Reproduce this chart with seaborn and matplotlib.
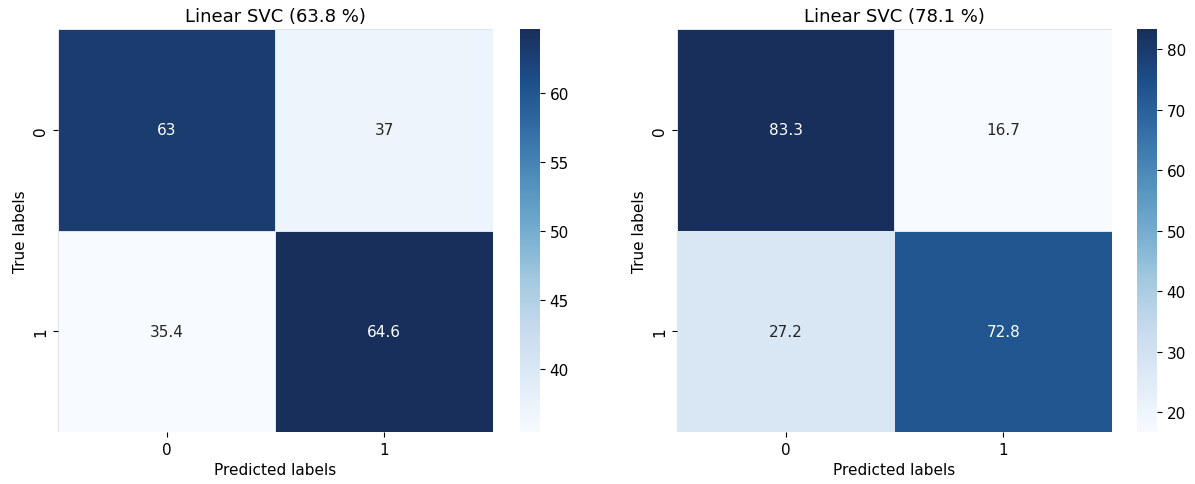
import numpy as np
import pandas as pd
import matplotlib
matplotlib.use("Agg")
import matplotlib.pyplot as plt
from matplotlib.colors import ListedColormap
import seaborn as sns

# confusion matrices (percent per true label)
labels = ["0", "1"]
cm_left = [[63, 37], [35.4, 64.6]]
cm_right = [[83.3, 16.7], [27.2, 72.8]]
titles = ["Linear SVC (63.8 %)", "Linear SVC (78.1 %)"]

# slightly muted version of "Blues" (mostly in the dark end) to match the reference tones
base = plt.get_cmap("Blues")(np.linspace(0, 1, 256))[:, :3]
lum = (base @ np.array([0.299, 0.587, 0.114]))[:, None]
dark = 1 - lum
muted = lum + (1 - 0.3 * dark) * (base - lum)
muted[:, 0:1] += 0.04 * dark
muted = np.clip(muted, 0, 1)
cmap = ListedColormap(muted)

fig = plt.figure(figsize=(11.95, 4.85), dpi=100)

# axes positions [left, bottom, width, height] in figure fractions
ax_pos = [[0.0485, 0.107, 0.364, 0.831], [0.5665, 0.107, 0.364, 0.831]]
cb_pos = [[0.435, 0.107, 0.0167, 0.831], [0.9515, 0.107, 0.0167, 0.831]]

for cm, title, ap, cp in zip([cm_left, cm_right], titles, ax_pos, cb_pos):
    ax = fig.add_axes(ap)
    cax = fig.add_axes(cp)
    df = pd.DataFrame(np.array(cm), index=labels, columns=labels)
    sns.heatmap(df, annot=True, fmt="g", cmap=cmap, ax=ax, cbar_ax=cax,
                linewidths=0.5, linecolor="#dde6f0", annot_kws={"fontsize": 11})
    ax.set_title(title, fontsize=13)
    ax.set_xlabel("Predicted labels", fontsize=11)
    ax.set_ylabel("True labels", fontsize=11)
    ax.tick_params(labelsize=11)
    cax.tick_params(labelsize=11)

fig.savefig("out.png", dpi=100, facecolor="white")
